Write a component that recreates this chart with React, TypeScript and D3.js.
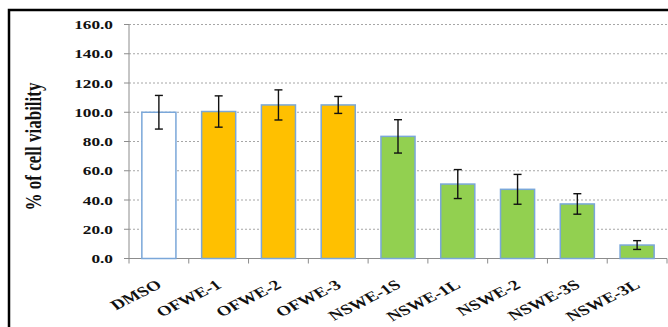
import React from 'react';
import * as d3 from 'd3';

const categories = ['DMSO', 'OFWE-1', 'OFWE-2', 'OFWE-3', 'NSWE-1S', 'NSWE-1L', 'NSWE-2', 'NSWE-3S', 'NSWE-3L'];
const viability = [100, 100.5, 105, 105, 83.5, 50.9, 47.3, 37.3, 9.2];
const errors = [11.5, 10.7, 10.3, 5.8, 11.4, 9.9, 10.2, 7.0, 3.0];
const groups = ['control', 'ofwe', 'ofwe', 'ofwe', 'nswe', 'nswe', 'nswe', 'nswe', 'nswe'];
const yTicks = [0, 20, 40, 60, 80, 100, 120, 140, 160];

const fills: Record<string, string> = { control: '#ffffff', ofwe: '#ffc000', nswe: '#92d050' };

const W = 668;
const H = 327;
const left = 129;
const right = 667;
const top = 24.5;
const bottom = 258.5;
const font = '"Liberation Serif", "Times New Roman", serif';
// the original picture is stretched sideways, text included
const sx = 1.35;

const App = () => {
  const x = d3.scaleBand<string>().domain(categories).range([left, right]).paddingInner(0.43).paddingOuter(0.215);
  const y = d3.scaleLinear().domain([0, 160]).range([bottom, top]);
  const step = (right - left) / categories.length;

  return (
    <svg width={W} height={H} style={{ position: 'absolute', left: 0, top: 0 }}>
      <rect x={0} y={0} width={W} height={H} fill="#fff" />
      {/* frame */}
      <path d={`M9,${H + 5} L9,10 L${W + 5},10`} fill="none" stroke="#000" strokeWidth={2.5} />

      {/* grid */}
      {yTicks.filter(t => t > 0).map(t => (
        <line key={t} x1={left} x2={right} y1={y(t)} y2={y(t)} stroke="#a6a6a6" strokeWidth={1} strokeDasharray="2,2" />
      ))}

      {/* y axis */}
      <line x1={left} x2={left} y1={top} y2={bottom} stroke="#8c8c8c" strokeWidth={1} />
      {yTicks.map(t => (
        <g key={t}>
          <line x1={left - 5} x2={left} y1={y(t)} y2={y(t)} stroke="#8c8c8c" />
          <text transform={`translate(113,${y(t) + 4.5}) scale(${sx},1)`} textAnchor="end" fontFamily={font}
            fontWeight="bold" fontSize={12.8} fill="#111">
            {t.toFixed(1)}
          </text>
        </g>
      ))}

      {/* x axis */}
      <line x1={left} x2={right} y1={bottom} y2={bottom} stroke="#8c8c8c" strokeWidth={1} />
      {d3.range(categories.length + 1).map(i => (
        <line key={i} x1={left + i * step} x2={left + i * step} y1={bottom} y2={bottom + 5} stroke="#8c8c8c" />
      ))}

      {/* bars */}
      {categories.map((c, i) => (
        <rect key={c} x={x(c)} y={y(viability[i])} width={x.bandwidth()} height={bottom - y(viability[i])}
          fill={fills[groups[i]]} stroke="#7aa7d9" strokeWidth={1.5} />
      ))}

      {/* error bars */}
      {categories.map((c, i) => {
        const cx = (x(c) as number) + x.bandwidth() / 2;
        const y1 = y(viability[i] + errors[i]);
        const y2 = y(viability[i] - errors[i]);
        return (
          <g key={c} stroke="#111" strokeWidth={1.4}>
            <line x1={cx} x2={cx} y1={y1} y2={y2} />
            <line x1={cx - 4} x2={cx + 4} y1={y1} y2={y1} />
            <line x1={cx - 4} x2={cx + 4} y1={y2} y2={y2} />
          </g>
        );
      })}

      {/* category labels */}
      {categories.map(c => {
        const cx = (x(c) as number) + x.bandwidth() / 2;
        return (
          <text key={c} transform={`translate(${cx + 4},${287}) scale(${sx},1) rotate(-34)`} textAnchor="end"
            fontFamily={font} fontWeight="bold" fontSize={14} fill="#111">
            {c}
          </text>
        );
      })}

      {/* y title */}
      <text transform={`translate(41,${(bottom + top) / 2 + 5}) scale(${sx},1) rotate(-90)`} textAnchor="middle"
        fontFamily={font} fontWeight="bold" fontSize={17} fill="#111">
        % of cell viability
      </text>
    </svg>
  );
};

export default App;
